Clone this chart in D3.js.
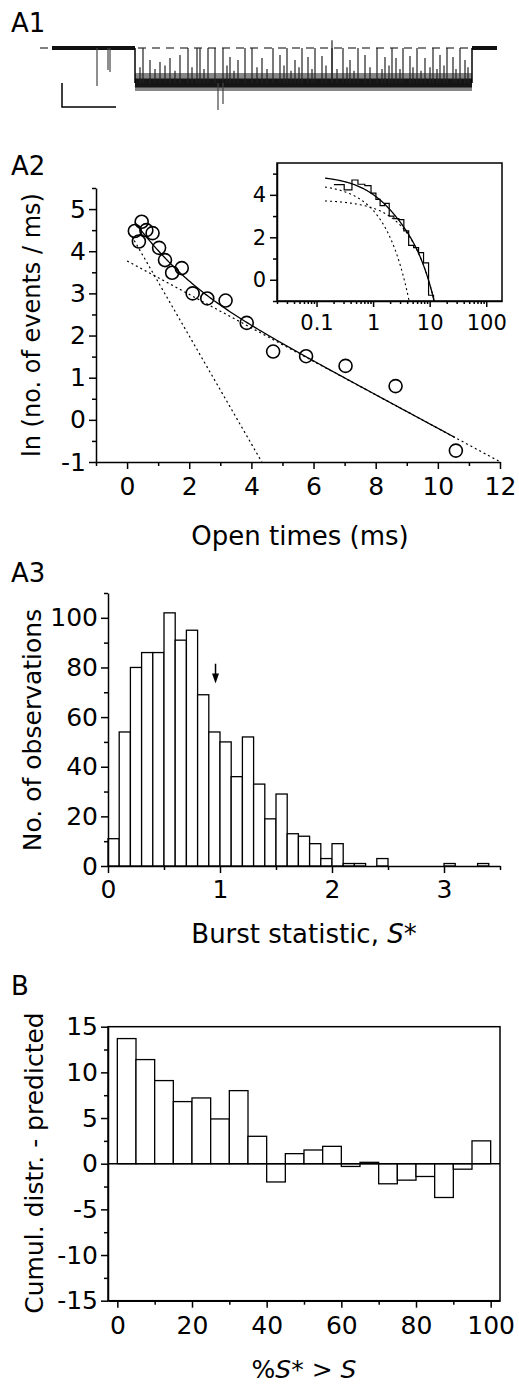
<!DOCTYPE html>
<html>
<head>
<meta charset="utf-8">
<script src="https://cdn.jsdelivr.net/npm/d3@7"></script>
<style>
  body { margin: 0; background: #fff; }
  svg { display: block; }
  text { font-family: "DejaVu Sans", sans-serif; fill: #000; }
</style>
</head>
<body>
<svg id="fig" width="519" height="1385"></svg>
<script>
// ---- A1: single-channel record (trace units: ms, pA) ----
const traceClosed = [[0, 83], [420, 445]];
const traceOpen = [[83, 420]];
const openLevel = -2.0;
// brief closures reaching the baseline
const fullClosures = [91, 136, 145, 148, 156, 163, 171, 193, 200, 221, 235, 250, 263, 280, 291, 306, 325, 340, 351, 365, 381, 395, 408];
// partial closures [time, level]
const partialClosures = [[98, -0.69], [108, -0.8], [118, -0.57], [128, -0.4], [178, -0.51], [186, -0.69], [210, -0.57],
  [228, -0.4], [243, -0.69], [256, -0.51], [270, -0.46], [298, -0.69], [313, -0.4], [333, -0.51], [344, -0.57],
  [358, -0.46], [373, -0.57], [388, -0.4], [401, -0.51], [413, -0.69]];
// small flickers within the open level [time, level]
const flickers = [[88, -1.1], [103, -1.2], [113, -1.0], [123, -1.3], [140, -1.1], [152, -1.2], [175, -1.0], [182, -1.3],
  [205, -1.1], [215, -1.2], [232, -1.0], [239, -1.3], [247, -1.1], [260, -1.2], [274, -1.0], [285, -1.2], [295, -1.1],
  [302, -1.3], [318, -1.1], [330, -1.2], [337, -1.0], [348, -1.2], [361, -1.1], [369, -1.3], [378, -1.1], [385, -1.2],
  [392, -1.0], [404, -1.2], [416, -1.1]];
const overshoot = [[280, 0.45]];
// downward events [time, level]
const downEvents = [[45, -2.17], [56, -1.26], [58, -1.37], [166, -3.54], [171, -3.2]];
const scaleBar = { t0: 10, len: 54, level: -3.37, amp: 1.37 };

// ---- A2: open-time distribution ----
const openTimes = [0.25, 0.38, 0.47, 0.62, 0.82, 1.03, 1.22, 1.45, 1.76, 2.11, 2.58, 3.17, 3.85, 4.70, 5.76, 7.03, 8.64, 10.58];
const lnCounts = [4.48, 4.23, 4.70, 4.50, 4.43, 4.08, 3.79, 3.49, 3.60, 3.00, 2.88, 2.83, 2.30, 1.62, 1.51, 1.28, 0.80, -0.73];
// two-exponential fit: ln(a1 e^(-t*k1) + a2 e^(-t*k2))
const fastFit = { lnA: 4.55, k: 1.28 };
const slowFit = { lnA: 3.77, k: 0.397 };

// ---- A3: burst statistic histogram (bins of 0.1) ----
const binWidth = 0.1;
const burstCounts = [11, 54, 80, 86, 86, 102, 91, 95, 69, 54, 50, 36, 52, 33, 19, 29, 13, 12, 9, 3, 9, 1, 1, 0, 3,
  0, 0, 0, 0, 0, 1, 0, 0, 1, 0];
const meanArrow = { s: 0.96, from: 81.5, to: 73.5 };

// ---- B: cumulative distribution minus prediction ----
const pctBins = [0, 5, 10, 15, 20, 25, 30, 35, 40, 45, 50, 55, 60, 65, 70, 75, 80, 85, 90, 95];
const pctWidth = 5;
const cumulDiff = [13.7, 11.4, 9.1, 6.8, 7.2, 4.9, 8.0, 3.0, -2.0, 1.1, 1.5, 1.9, -0.3, 0.15, -2.2, -1.8, -1.4, -3.7, -0.6, 2.5];

const svg = d3.select('#fig');
svg.append('rect').attr('width', 519).attr('height', 1385).attr('fill', '#fff');

function addAxis(parent, orient, scale, pos, major, minor, o) {
  const make = orient === 'left' ? d3.axisLeft : d3.axisBottom;
  const tr = orient === 'left' ? `translate(${pos},0)` : `translate(0,${pos})`;
  const gm = parent.append('g').attr('transform', tr)
    .call(make(scale).tickValues(minor).tickSize(o.minor || 4).tickSizeOuter(0).tickFormat(''));
  gm.select('.domain').remove();
  const g = parent.append('g').attr('transform', tr)
    .call(make(scale).tickValues(major).tickSize(o.major || 7).tickSizeOuter(0)
      .tickPadding(o.pad).tickFormat(o.fmt || (d => String(d))));
  g.attr('font-size', o.font).attr('font-family', '"DejaVu Sans", sans-serif');
  g.selectAll('text').style('font-size', o.font + 'px');
  parent.selectAll('.domain, .tick line').attr('stroke', '#000').attr('stroke-width', 1.5);
  return g;
}

function yTitle(x, y, txt, size) {
  svg.append('text').attr('transform', `translate(${x},${y}) rotate(-90)`)
    .attr('text-anchor', 'middle').attr('dy', '0.36em').style('font-size', size + 'px').text(txt);
}

function panelLabel(x, y, txt) {
  svg.append('text').attr('x', x).attr('y', y).style('font-size', '26px').text(txt);
}

// ================= A1 =================
panelLabel(11, 32, 'A1');
const xTr = d3.scaleLinear([0, 445], [52, 497]);
const yTr = d3.scaleLinear([0, -2], [48, 83]);
const a1 = svg.append('g');
a1.append('line').attr('x1', xTr(-12)).attr('x2', xTr(448)).attr('y1', yTr(0)).attr('y2', yTr(0))
  .attr('stroke', '#000').attr('stroke-width', 1.2).attr('stroke-dasharray', '8,6');
traceClosed.forEach(([a, b]) => {
  a1.append('line').attr('x1', xTr(a)).attr('x2', xTr(b)).attr('y1', yTr(0)).attr('y2', yTr(0))
    .attr('stroke', '#111').attr('stroke-width', 4);
});
traceOpen.forEach(([a, b]) => {
  a1.append('line').attr('x1', xTr(a)).attr('x2', xTr(b)).attr('y1', yTr(openLevel) - 1).attr('y2', yTr(openLevel) - 1)
    .attr('stroke', '#888').attr('stroke-width', 18);
  a1.append('line').attr('x1', xTr(a)).attr('x2', xTr(b)).attr('y1', yTr(openLevel)).attr('y2', yTr(openLevel))
    .attr('stroke', '#151515').attr('stroke-width', 9);
  [a, b].forEach(t => a1.append('line').attr('x1', xTr(t)).attr('x2', xTr(t))
    .attr('y1', yTr(0)).attr('y2', yTr(openLevel)).attr('stroke', '#000').attr('stroke-width', 1.5));
});
const spikes = fullClosures.map(t => [t, 0]).concat(partialClosures, overshoot, flickers);
a1.selectAll('.spike').data(spikes).enter().append('line')
  .attr('x1', d => xTr(d[0])).attr('x2', d => xTr(d[0]))
  .attr('y1', yTr(openLevel)).attr('y2', d => yTr(d[1]))
  .attr('stroke', '#222').attr('stroke-width', 1.2);
a1.selectAll('.down').data(downEvents).enter().append('line')
  .attr('x1', d => xTr(d[0])).attr('x2', d => xTr(d[0]))
  .attr('y1', d => d[0] < 83 ? yTr(0) : yTr(openLevel)).attr('y2', d => yTr(d[1]))
  .attr('stroke', '#444').attr('stroke-width', 1.2);
a1.append('path')
  .attr('d', `M${xTr(scaleBar.t0)},${yTr(scaleBar.level + scaleBar.amp)}V${yTr(scaleBar.level)}H${xTr(scaleBar.t0 + scaleBar.len)}`)
  .attr('fill', 'none').attr('stroke', '#000').attr('stroke-width', 1.5);

// ================= A2 =================
panelLabel(11, 175, 'A2');
const xA2 = d3.scaleLinear([-1, 12], [96, 500]);
const yA2 = d3.scaleLinear([-1, 5.5], [462, 188]);
const a2 = svg.append('g');
addAxis(a2, 'left', yA2, 96, d3.range(-1, 6), d3.range(-0.5, 5.6, 1), { font: 25, pad: 3 });
addAxis(a2, 'bottom', xA2, 462, d3.range(0, 13, 2), d3.range(-1, 12, 2), { font: 25, pad: 8 });
yTitle(31, 325, 'ln (no. of events / ms)', 24);
svg.append('text').attr('x', 300).attr('y', 545).attr('text-anchor', 'middle').style('font-size', '26px').text('Open times (ms)');

const fast = t => fastFit.lnA - fastFit.k * t;
const slow = t => slowFit.lnA - slowFit.k * t;
const both = t => Math.log(Math.exp(fast(t)) + Math.exp(slow(t)));
const tFastEnd = (fastFit.lnA + 1) / fastFit.k;

const lineA2 = f => d3.line().x(t => xA2(t)).y(t => yA2(f(t)));
a2.append('path').attr('d', lineA2(slow)([0, 12])).attr('fill', 'none')
  .attr('stroke', '#000').attr('stroke-width', 1.2).attr('stroke-dasharray', '2,3');
a2.append('path').attr('d', lineA2(fast)([0.15, tFastEnd])).attr('fill', 'none')
  .attr('stroke', '#000').attr('stroke-width', 1.2).attr('stroke-dasharray', '2,3');
a2.append('path').attr('d', lineA2(both)(d3.range(0.25, 10.6, 0.05))).attr('fill', 'none')
  .attr('stroke', '#000').attr('stroke-width', 1.3);
a2.selectAll('circle').data(openTimes).enter().append('circle')
  .attr('cx', d => xA2(d)).attr('cy', (d, i) => yA2(lnCounts[i])).attr('r', 6.5)
  .attr('fill', 'none').attr('stroke', '#000').attr('stroke-width', 1.6);

// inset (log time axis)
const xIn = d3.scaleLog([0.02, 190], [277, 502]);
const yIn = d3.scaleLinear([-1, 5.5], [301, 163]);
const ins = svg.append('g');
svg.append('clipPath').attr('id', 'insClip').append('rect')
  .attr('x', 277).attr('y', 163).attr('width', 225).attr('height', 138);
const logMinor = [];
[0.01, 0.1, 1, 10, 100].forEach(dec => d3.range(2, 10).forEach(k => {
  const v = k * dec;
  if (v >= 0.02 && v <= 190) logMinor.push(v);
}));
addAxis(ins, 'left', yIn, 277, [0, 2, 4], [-1, 1, 3, 5], { font: 21, pad: 4, major: 7, minor: 4 });
addAxis(ins, 'bottom', xIn, 301, [0.1, 1, 10, 100], logMinor, { font: 21, pad: 8, major: 6, minor: 3, fmt: d => String(d) });
ins.append('rect').attr('x', 277).attr('y', 163).attr('width', 225).attr('height', 138)
  .attr('fill', 'none').attr('stroke', '#000').attr('stroke-width', 1.5);

const n = openTimes.length;
const edges = openTimes.map((t, i) => i === 0 ? t / Math.sqrt(openTimes[1] / t) : Math.sqrt(openTimes[i - 1] * t));
edges.push(openTimes[n - 1] * Math.sqrt(openTimes[n - 1] / openTimes[n - 2]));
let stepD = `M${xIn(edges[0])},${yIn(lnCounts[0])}`;
lnCounts.forEach((v, i) => { stepD += `V${yIn(v)}H${xIn(edges[i + 1])}`; });
stepD += `V${yIn(-1)}`;
const insPlot = ins.append('g').attr('clip-path', 'url(#insClip)');
insPlot.append('path').attr('d', stepD).attr('fill', 'none').attr('stroke', '#000').attr('stroke-width', 1.2);
const logT = d3.range(-0.85, 1.1, 0.01).map(e => Math.pow(10, e));
const lineIn = f => d3.line().x(t => xIn(t)).y(t => yIn(Math.max(f(t), -1.2)));
insPlot.append('path').attr('d', lineIn(fast)(logT.filter(t => t <= tFastEnd + 0.05))).attr('fill', 'none')
  .attr('stroke', '#000').attr('stroke-width', 1.1).attr('stroke-dasharray', '2,3');
insPlot.append('path').attr('d', lineIn(slow)(logT)).attr('fill', 'none')
  .attr('stroke', '#000').attr('stroke-width', 1.1).attr('stroke-dasharray', '2,3');
insPlot.append('path').attr('d', lineIn(both)(logT)).attr('fill', 'none')
  .attr('stroke', '#000').attr('stroke-width', 1.3);

// ================= A3 =================
panelLabel(11, 582, 'A3');
const xA3 = d3.scaleLinear([0, 3.5], [108, 500]);
const yA3 = d3.scaleLinear([0, 110], [866, 593]);
const a3 = svg.append('g');
a3.selectAll('rect').data(burstCounts.map((c, i) => ({ s: i * binWidth, c })).filter(d => d.c > 0))
  .enter().append('rect')
  .attr('x', d => xA3(d.s)).attr('width', d => xA3(d.s + binWidth) - xA3(d.s))
  .attr('y', d => yA3(d.c)).attr('height', d => yA3(0) - yA3(d.c))
  .attr('fill', '#fff').attr('stroke', '#000').attr('stroke-width', 1.3);
addAxis(a3, 'left', yA3, 108, d3.range(0, 101, 20), d3.range(10, 111, 20), { font: 25, pad: 3 });
addAxis(a3, 'bottom', xA3, 866, [0, 1, 2, 3], [0.5, 1.5, 2.5, 3.5], { font: 25, pad: 7 });
yTitle(32, 730, 'No. of observations', 25);
const bt = svg.append('text').attr('x', 304).attr('y', 943).attr('text-anchor', 'middle').style('font-size', '26px');
bt.append('tspan').text('Burst statistic, ');
bt.append('tspan').style('font-style', 'italic').text('S');
bt.append('tspan').text('*');
// arrow marking the mean
const ax = xA3(meanArrow.s);
a3.append('line').attr('x1', ax).attr('x2', ax).attr('y1', yA3(meanArrow.from)).attr('y2', yA3(meanArrow.to) - 6)
  .attr('stroke', '#000').attr('stroke-width', 1.5);
a3.append('path').attr('d', `M${ax - 3.5},${yA3(meanArrow.to) - 10}L${ax + 3.5},${yA3(meanArrow.to) - 10}L${ax},${yA3(meanArrow.to)}Z`)
  .attr('fill', '#000');

// ================= B =================
panelLabel(11, 995, 'B');
const xB = d3.scaleLinear([-2.5, 102.5], [108, 500]);
const yB = d3.scaleLinear([-15, 15], [1300.7, 1026.7]);
const b = svg.append('g');
b.selectAll('rect').data(pctBins).enter().append('rect')
  .attr('x', d => xB(d)).attr('width', xB(pctWidth) - xB(0))
  .attr('y', (d, i) => yB(Math.max(0, cumulDiff[i])))
  .attr('height', (d, i) => Math.abs(yB(cumulDiff[i]) - yB(0)))
  .attr('fill', '#fff').attr('stroke', '#000').attr('stroke-width', 1.3);
b.append('line').attr('x1', 108).attr('x2', 500).attr('y1', yB(0)).attr('y2', yB(0))
  .attr('stroke', '#000').attr('stroke-width', 1.5);
addAxis(b, 'left', yB, 108, d3.range(-15, 16, 5), d3.range(-12.5, 13, 5), { font: 25, pad: 3 });
addAxis(b, 'bottom', xB, 1300.7, d3.range(0, 101, 20), d3.range(10, 100, 20), { font: 25, pad: 9 });
b.append('rect').attr('x', 108).attr('y', 1026.7).attr('width', 392).attr('height', 274)
  .attr('fill', 'none').attr('stroke', '#000').attr('stroke-width', 1.5);
yTitle(34, 1163, 'Cumul. distr. - predicted', 25);
const pt = svg.append('text').attr('x', 304).attr('y', 1378).attr('text-anchor', 'middle').style('font-size', '25px');
pt.append('tspan').text('%');
pt.append('tspan').style('font-style', 'italic').text('S');
pt.append('tspan').text('* > ');
pt.append('tspan').style('font-style', 'italic').text('S');
</script>
</body>
</html>
